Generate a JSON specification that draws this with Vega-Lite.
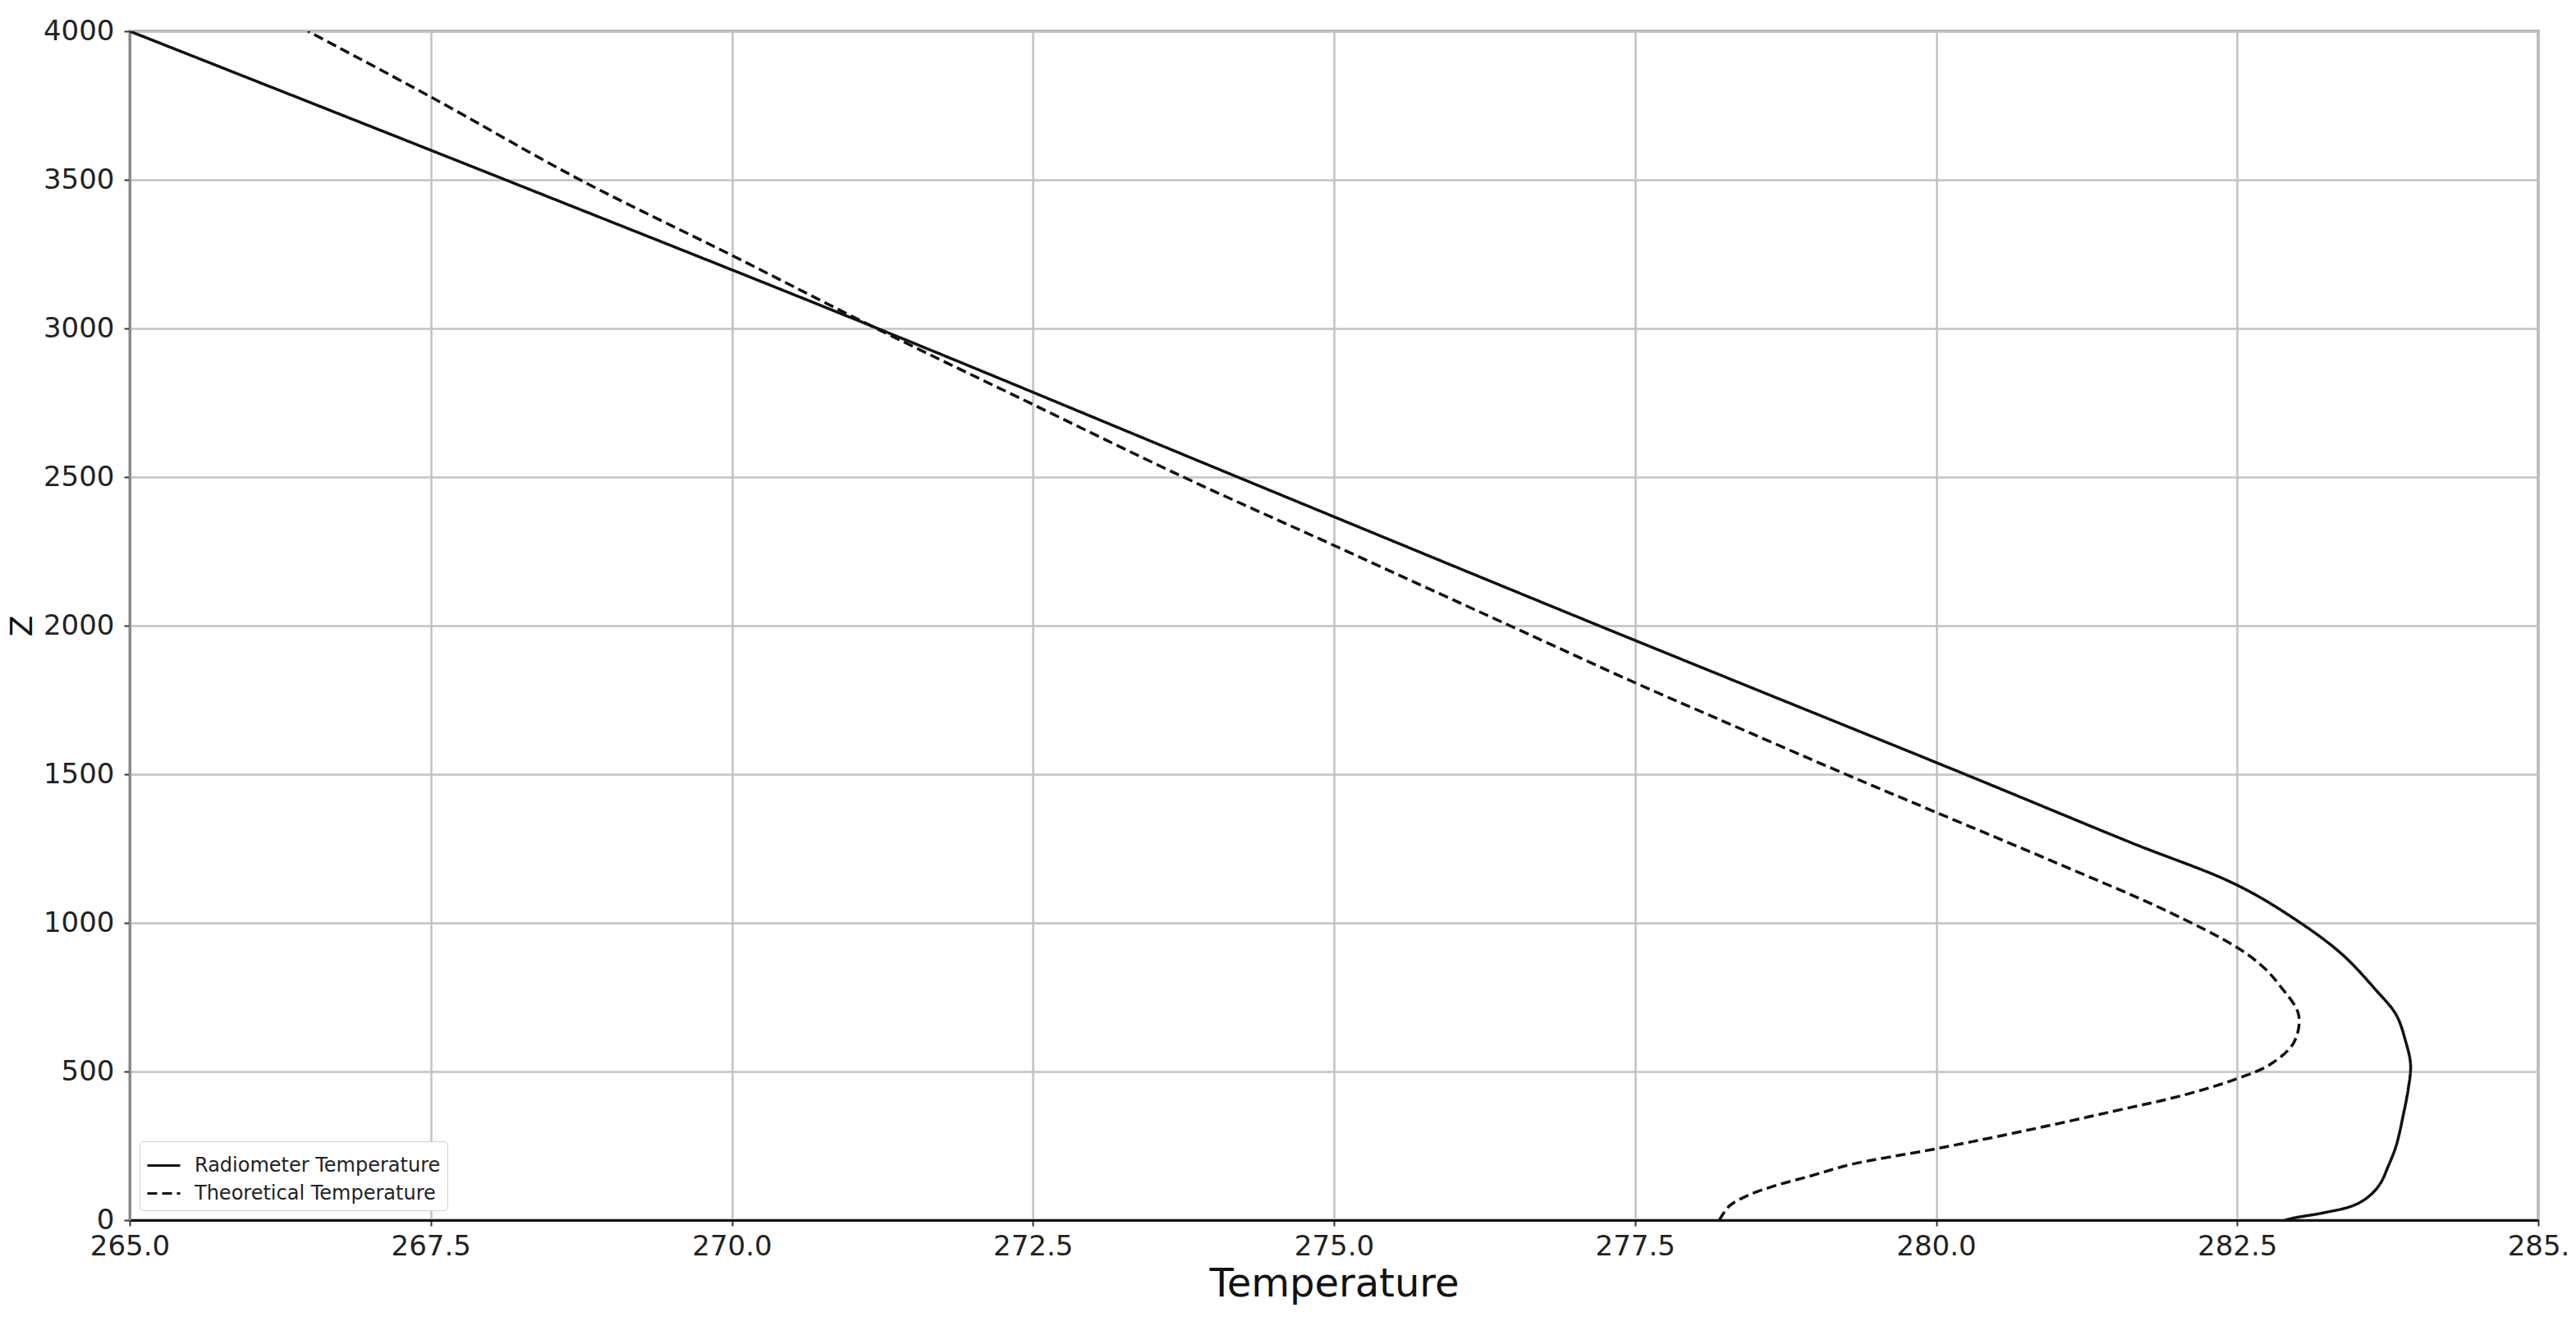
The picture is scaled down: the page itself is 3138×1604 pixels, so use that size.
{
  "$schema": "https://vega.github.io/schema/vega-lite/v6.json",
  "width": 2934,
  "height": 1448,
  "autosize": {"type": "none"},
  "padding": {"left": 158, "top": 38, "right": 46, "bottom": 118},
  "background": "white",
  "config": {
    "font": "DejaVu Sans",
    "view": {"stroke": "#8a8a8a", "strokeWidth": 3},
    "axis": {
      "gridColor": "#c2c2c2",
      "gridWidth": 2.5,
      "tickColor": "#333333",
      "tickWidth": 2,
      "tickSize": 7,
      "labelFontSize": 34,
      "labelColor": "#222222",
      "labelOverlap": false,
      "labelFlush": false,
      "titleColor": "#111111",
      "titleFontWeight": "normal"
    }
  },
  "data": {
    "values": [
      {"series": "Radiometer Temperature", "Z": 4000, "T": 265.0},
      {"series": "Radiometer Temperature", "Z": 3500, "T": 268.12},
      {"series": "Radiometer Temperature", "Z": 3000, "T": 271.21},
      {"series": "Radiometer Temperature", "Z": 2500, "T": 274.2},
      {"series": "Radiometer Temperature", "Z": 2000, "T": 277.2},
      {"series": "Radiometer Temperature", "Z": 1500, "T": 280.24},
      {"series": "Radiometer Temperature", "Z": 1273, "T": 281.6},
      {"series": "Radiometer Temperature", "Z": 1127, "T": 282.5},
      {"series": "Radiometer Temperature", "Z": 996, "T": 283.04},
      {"series": "Radiometer Temperature", "Z": 891, "T": 283.38},
      {"series": "Radiometer Temperature", "Z": 775, "T": 283.65},
      {"series": "Radiometer Temperature", "Z": 691, "T": 283.82},
      {"series": "Radiometer Temperature", "Z": 600, "T": 283.9},
      {"series": "Radiometer Temperature", "Z": 523, "T": 283.94},
      {"series": "Radiometer Temperature", "Z": 440, "T": 283.92},
      {"series": "Radiometer Temperature", "Z": 355, "T": 283.88},
      {"series": "Radiometer Temperature", "Z": 250, "T": 283.82},
      {"series": "Radiometer Temperature", "Z": 177, "T": 283.75},
      {"series": "Radiometer Temperature", "Z": 124, "T": 283.69},
      {"series": "Radiometer Temperature", "Z": 82, "T": 283.6},
      {"series": "Radiometer Temperature", "Z": 50, "T": 283.47},
      {"series": "Radiometer Temperature", "Z": 24, "T": 283.21},
      {"series": "Radiometer Temperature", "Z": 8, "T": 282.98},
      {"series": "Radiometer Temperature", "Z": 0, "T": 282.9},
      {"series": "Theoretical Temperature", "Z": 4000, "T": 266.48},
      {"series": "Theoretical Temperature", "Z": 3779, "T": 267.5},
      {"series": "Theoretical Temperature", "Z": 3500, "T": 268.74},
      {"series": "Theoretical Temperature", "Z": 3246, "T": 270.0},
      {"series": "Theoretical Temperature", "Z": 3000, "T": 271.2},
      {"series": "Theoretical Temperature", "Z": 2762, "T": 272.41},
      {"series": "Theoretical Temperature", "Z": 2500, "T": 273.75},
      {"series": "Theoretical Temperature", "Z": 2270, "T": 275.0},
      {"series": "Theoretical Temperature", "Z": 2000, "T": 276.46},
      {"series": "Theoretical Temperature", "Z": 1808, "T": 277.5},
      {"series": "Theoretical Temperature", "Z": 1686, "T": 278.19},
      {"series": "Theoretical Temperature", "Z": 1500, "T": 279.25},
      {"series": "Theoretical Temperature", "Z": 1377, "T": 279.97},
      {"series": "Theoretical Temperature", "Z": 1210, "T": 280.95},
      {"series": "Theoretical Temperature", "Z": 1043, "T": 281.9},
      {"series": "Theoretical Temperature", "Z": 917, "T": 282.5},
      {"series": "Theoretical Temperature", "Z": 850, "T": 282.72},
      {"series": "Theoretical Temperature", "Z": 786, "T": 282.86},
      {"series": "Theoretical Temperature", "Z": 691, "T": 283.01},
      {"series": "Theoretical Temperature", "Z": 597, "T": 282.97},
      {"series": "Theoretical Temperature", "Z": 523, "T": 282.77},
      {"series": "Theoretical Temperature", "Z": 476, "T": 282.5},
      {"series": "Theoretical Temperature", "Z": 420, "T": 282.05},
      {"series": "Theoretical Temperature", "Z": 366, "T": 281.47},
      {"series": "Theoretical Temperature", "Z": 300, "T": 280.73},
      {"series": "Theoretical Temperature", "Z": 240, "T": 280.0},
      {"series": "Theoretical Temperature", "Z": 187, "T": 279.29},
      {"series": "Theoretical Temperature", "Z": 150, "T": 278.97},
      {"series": "Theoretical Temperature", "Z": 113, "T": 278.64},
      {"series": "Theoretical Temperature", "Z": 80, "T": 278.42},
      {"series": "Theoretical Temperature", "Z": 50, "T": 278.29},
      {"series": "Theoretical Temperature", "Z": 20, "T": 278.23},
      {"series": "Theoretical Temperature", "Z": 0, "T": 278.2}
    ]
  },
  "mark": {"type": "line", "strokeWidth": 3.5, "color": "#111111", "interpolate": "catmull-rom", "clip": true},
  "encoding": {
    "x": {
      "field": "T",
      "type": "quantitative",
      "scale": {"domain": [265, 285], "nice": false, "zero": false},
      "axis": {
        "title": "Temperature",
        "titleFontSize": 48,
        "titlePadding": 5,
        "labelPadding": 8,
        "values": [265, 267.5, 270, 272.5, 275, 277.5, 280, 282.5, 285],
        "labelExpr": "datum.value == 285 ? '285.' : format(datum.value, '.1f')",
        "domainColor": "#111111",
        "domainWidth": 3
      }
    },
    "y": {
      "field": "Z",
      "type": "quantitative",
      "scale": {"domain": [0, 4000], "nice": false},
      "axis": {
        "title": "Z",
        "titleFontSize": 38,
        "titlePadding": 6,
        "labelPadding": 12,
        "format": "d",
        "values": [0, 500, 1000, 1500, 2000, 2500, 3000, 3500, 4000],
        "domainColor": "#8a8a8a",
        "domainWidth": 3
      }
    },
    "strokeDash": {
      "field": "series",
      "type": "nominal",
      "scale": {
        "domain": ["Radiometer Temperature", "Theoretical Temperature"],
        "range": [[1, 0], [12, 6]]
      },
      "legend": {
        "title": null,
        "orient": "bottom-left",
        "offset": 12,
        "padding": 8,
        "fillColor": "white",
        "strokeColor": "#d0d0d0",
        "cornerRadius": 4,
        "symbolType": "stroke",
        "symbolSize": 1600,
        "symbolStrokeWidth": 3,
        "symbolStrokeColor": "#111111",
        "labelFontSize": 24,
        "labelLimit": 0,
        "labelOffset": 16,
        "labelColor": "#222222",
        "rowPadding": 0
      }
    },
    "order": {"field": "Z", "type": "quantitative"}
  }
}
